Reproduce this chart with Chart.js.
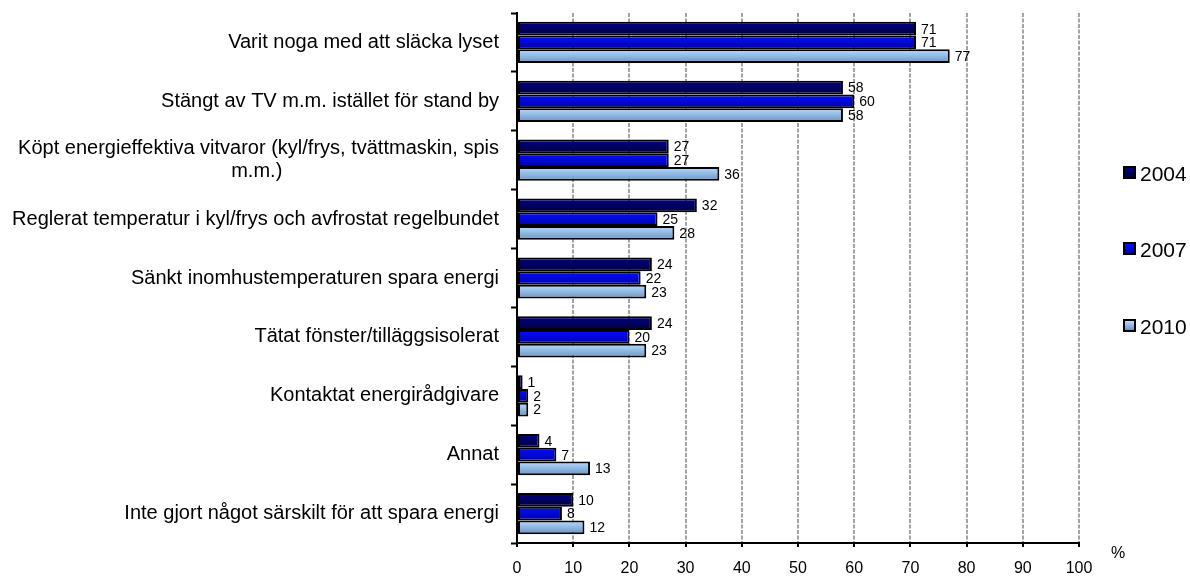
<!DOCTYPE html>
<html>
<head>
<meta charset="utf-8">
<script src="https://cdn.jsdelivr.net/npm/chart.js@4/dist/chart.umd.min.js"></script>
<style>
  body { margin: 0; background: #fff; font-family: "Liberation Sans", Arial, sans-serif; }
  #wrap { position: relative; width: 1190px; height: 576px; }
  #legend { position: absolute; left: 1123px; top: 0; }
  .item { position: absolute; left: 0; white-space: nowrap; font-size: 21px; color: #000; line-height: 24px; }
  .box { display: inline-block; width: 9px; height: 9px; border: 2px solid #000; margin-right: 4px; vertical-align: 2px; }
  #pct { position: absolute; left: 1111px; top: 544px; font-size: 16px; }
</style>
</head>
<body>
<div id="wrap">
  <canvas id="chart" width="1190" height="576"></canvas>
  <div id="legend"></div>
  <div id="pct">%</div>
</div>
<script>
const categories = [
  'Varit noga med att släcka lyset',
  'Stängt av TV m.m. istället för stand by',
  ['Köpt energieffektiva vitvaror (kyl/frys, tvättmaskin, spis', 'm.m.)'],
  'Reglerat temperatur i kyl/frys och avfrostat regelbundet',
  'Sänkt inomhustemperaturen spara energi',
  'Tätat fönster/tilläggsisolerat',
  'Kontaktat energirådgivare',
  'Annat',
  'Inte gjort något särskilt för att spara energi'
];
const years = ['2004', '2007', '2010'];
const values2004 = [71, 58, 27, 32, 24, 24, 1, 4, 10];
const values2007 = [71, 60, 27, 25, 22, 20, 2, 7, 8];
const values2010 = [77, 58, 36, 28, 23, 23, 2, 13, 12];
const xTicks = [0, 10, 20, 30, 40, 50, 60, 70, 80, 90, 100];

const colors = ['#00005e', '#0000e6', '#8dbdec'];
const gradients = [['#000088', '#00003c'], ['#0010ff', '#0000a8'], ['#b8dcff', '#6894c4']];
const seriesValues = [values2004, values2007, values2010];
const catPct = 0.70;
const labelFont = '20px "Liberation Sans", Arial, sans-serif';

// top-to-bottom shading of each bar, worked out from the category scale
function barFill(c) {
    const chart = c.chart;
    const y = chart.scales.y;
    const i = c.datasetIndex;
    if (!y || c.dataIndex === undefined || !chart.chartArea) return colors[i];
    const band = (y.bottom - y.top) / categories.length;
    const h = band * catPct / years.length;
    const mid = y.getPixelForValue(c.dataIndex) + (i - 1) * h;
    const g = chart.ctx.createLinearGradient(0, mid - h / 2, 0, mid + h / 2);
    g.addColorStop(0, gradients[i][0]);
    g.addColorStop(1, gradients[i][1]);
    return g;
}

// wrapped labels: center the short line under the long one (axis text is right aligned)
const measure = document.createElement('canvas').getContext('2d');
measure.font = labelFont;
function centerLines(label) {
    if (!Array.isArray(label)) return label;
    const widths = label.map(t => measure.measureText(t).width);
    const widest = Math.max(...widths);
    const nb = measure.measureText('\u00a0').width;
    return label.map((t, k) => t + '\u00a0'.repeat(Math.round((widest - widths[k]) / 2 / nb)));
}

// values printed next to each bar end
const barLabels = {
    id: 'barLabels',
    afterDatasetsDraw(chart) {
        const ctx = chart.ctx;
        ctx.save();
        ctx.font = '14px "Liberation Sans", Arial, sans-serif';
        ctx.fillStyle = '#000';
        ctx.textAlign = 'left';
        ctx.textBaseline = 'middle';
        chart.data.datasets.forEach((ds, i) => {
            chart.getDatasetMeta(i).data.forEach((bar, j) => {
                ctx.fillText(ds.data[j], bar.x + 5, bar.y + 1);
            });
        });
        ctx.restore();
    }
};

const chart = new Chart(document.getElementById('chart'), {
    type: 'bar',
    data: {
        labels: categories,
        datasets: years.map((y, i) => ({
            label: y,
            data: seriesValues[i],
            backgroundColor: barFill,
            borderColor: '#000',
            borderWidth: 2,
            borderSkipped: false,
            categoryPercentage: catPct,
            barPercentage: 1.0
        }))
    },
    options: {
        indexAxis: 'y',
        responsive: false,
        animation: false,
        layout: { padding: { left: 0, right: 111, top: 13, bottom: 0 } },
        plugins: {
            legend: { display: false },
            tooltip: { enabled: false }
        },
        scales: {
            x: {
                min: 0,
                max: 100,
                afterBuildTicks: (s) => { s.ticks = xTicks.map(v => ({ value: v })); },
                afterFit: (s) => { s.height = 33; },
                grid: {
                    color: '#a3a3a3',
                    lineWidth: 2,
                    tickColor: '#000',
                    tickLength: 4,
                    tickWidth: 2
                },
                border: { color: '#000', width: 2, dash: [4, 1.5] },
                ticks: {
                    color: '#000',
                    padding: 12,
                    maxRotation: 0,
                    font: { family: '"Liberation Sans", Arial, sans-serif', size: 16 }
                }
            },
            y: {
                afterFit: (s) => { s.width = 517; s.paddingTop = 0; s.paddingBottom = 0; },
                grid: {
                    drawOnChartArea: false,
                    offset: true,
                    tickColor: '#000',
                    tickLength: 6,
                    tickWidth: 2
                },
                border: { color: '#000', width: 2 },
                ticks: {
                    color: '#000',
                    padding: 12,
                    callback: (v, idx) => centerLines(categories[idx]),
                    font: { family: '"Liberation Sans", Arial, sans-serif', size: 20, lineHeight: 1.15 }
                }
            }
        }
    },
    plugins: [barLabels]
});

// legend on the right, spread out like the original
const legend = document.getElementById('legend');
const legendTops = [162, 238, 315];
years.forEach((y, i) => {
    const item = document.createElement('div');
    item.className = 'item';
    item.style.top = legendTops[i] + 'px';
    item.innerHTML = '<span class="box" style="background:linear-gradient(' + gradients[i][0] + ',' + gradients[i][1] + ')"></span>' + y;
    legend.appendChild(item);
});
</script>
</body>
</html>
